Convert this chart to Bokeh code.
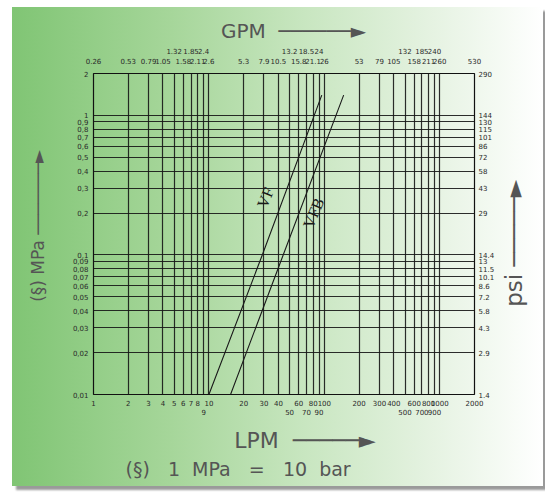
import math
from bokeh.plotting import figure
from bokeh.models import LogAxis, FixedTicker, Title
from bokeh.core.properties import value
from bokeh.embed import file_html
from bokeh.resources import INLINE

# ---- data ----
lpm_row1 = [1, 2, 3, 4, 5, 6, 7, 8, 10, 20, 30, 40, 60, 80, 100, 200, 300, 400, 600, 800, 1000, 2000]
lpm_row1_labels = [str(v) for v in lpm_row1]
lpm_row2 = [9, 50, 70, 90, 500, 700, 900]
lpm_row2_labels = [str(v) for v in lpm_row2]

gpm_row1_pos = [5, 7, 9, 50, 70, 90, 500, 700, 900]
gpm_row1_labels = ["1.32", "1.85", "2.4", "13.2", "18.5", "24", "132", "185", "240"]
gpm_row2_pos = [1, 2, 3, 4, 6, 8, 10, 20, 30, 40, 60, 80, 100, 200, 300, 400, 600, 800, 1000, 2000]
gpm_row2_labels = ["0.26", "0.53", "0.79", "1.05", "1.58", "2.11", "2.6", "5.3", "7.9", "10.5",
                   "15.8", "21.1", "26", "53", "79", "105", "158", "211", "260", "530"]

grid_lpm = [1, 2, 3, 4, 5, 6, 7, 8, 9, 10, 20, 30, 40, 50, 60, 70, 80, 90, 100,
            200, 300, 400, 500, 600, 700, 800, 900, 1000, 2000]

mpa_ticks = [2, 1, 0.9, 0.8, 0.7, 0.6, 0.5, 0.4, 0.3, 0.2,
             0.1, 0.09, 0.08, 0.07, 0.06, 0.05, 0.04, 0.03, 0.02, 0.01]
mpa_labels = ["2", "1", "0,9", "0,8", "0,7", "0,6", "0,5", "0,4", "0,3", "0,2",
              "0,1", "0,09", "0,08", "0,07", "0,06", "0,05", "0,04", "0,03", "0,02", "0,01"]
psi_labels = ["290", "144", "130", "115", "101", "86", "72", "58", "43", "29",
              "14.4", "13", "11.5", "10.1", "8.6", "7.2", "5.8", "4.3", "2.9", "1.4"]

vf_lpm = [10, 29, 95]
vf_mpa = [0.01, 0.1, 1.4]
vfb_lpm = [15.4, 44, 147]
vfb_mpa = [0.01, 0.1, 1.4]

NB = "\u00a0"

# ---- figure ----
W, H = 531, 479
p = figure(width=W, height=H, x_axis_type="log", y_axis_type="log",
           x_range=(1, 2000), y_range=(0.01, 2),
           output_backend="svg", toolbar_location=None,
           min_border_left=81, min_border_right=69, min_border_top=66, min_border_bottom=92)
p.border_fill_alpha = 0
p.background_fill_alpha = 0
p.outline_line_color = "#111111"
p.outline_line_width = 1.2
p.styles = {
    "margin-left": "4px",
    "transform": "translate(8px, 7px)",
    "background": "linear-gradient(to right, #80c574 0%, #a6d69a 30%, #c8e6c0 55%, #e4f2e0 78%, #ffffff 100%)",
    "box-shadow": "4px 4px 2px #9a9a9a",
}

TICK_FONT = "DejaVu Sans"
TITLE_FONT = "DejaVu Sans"
LABEL_COLOR = "#2a2a2a"
TITLE_COLOR = "#555555"


def style_axis(ax, ticks, labels, standoff, size="7px"):
    ax.ticker = FixedTicker(ticks=ticks)
    ax.major_label_overrides = {t: l for t, l in zip(ticks, labels)}
    ax.major_tick_in = 0
    ax.major_tick_out = 0
    ax.minor_tick_in = 0
    ax.minor_tick_out = 0
    ax.axis_line_color = None
    ax.major_label_standoff = standoff
    ax.major_label_text_font = TICK_FONT
    ax.major_label_text_font_size = size
    ax.major_label_text_color = LABEL_COLOR
    ax.axis_label_text_font = TITLE_FONT
    ax.axis_label_text_font_style = "normal"
    ax.axis_label_text_color = TITLE_COLOR


# grid
p.xgrid.ticker = FixedTicker(ticks=grid_lpm)
p.ygrid.ticker = FixedTicker(ticks=mpa_ticks)
for g in (p.xgrid, p.ygrid):
    g.grid_line_color = "#161616"
    g.grid_line_alpha = 0.9
    g.grid_line_width = 1.2
    g.minor_grid_line_color = None

# bottom axes
bx1 = p.xaxis[0]
style_axis(bx1, lpm_row1, lpm_row1_labels, 5)
bx2 = LogAxis()
style_axis(bx2, lpm_row2, lpm_row2_labels, 0)
bx2.axis_label = NB * 6 + "LPM" + NB * 2 + "─" * 5 + "►"
bx2.axis_label_text_font_size = "22px"
bx2.axis_label_standoff = 10
p.add_layout(bx2, "below")

# top axes
tx2 = LogAxis()
style_axis(tx2, gpm_row2_pos, gpm_row2_labels, 10)
p.add_layout(tx2, "above")
tx1 = LogAxis()
style_axis(tx1, gpm_row1_pos, gpm_row1_labels, 1)
tx1.axis_label = NB * 3 + "GPM" + NB * 2 + "─" * 6 + "►"
tx1.axis_label_text_font_size = "20px"
tx1.axis_label_standoff = 2
p.add_layout(tx1, "above")

# left axis
ly = p.yaxis[0]
style_axis(ly, mpa_ticks, mpa_labels, 5)
ly.axis_label = NB * 3 + "(§)" + NB + "MPa" + NB + "─" * 7 + "►"
ly.axis_label_text_font_size = "17px"
ly.axis_label_standoff = 22

# right axis (psi scale)
ry = LogAxis()
style_axis(ry, mpa_ticks, psi_labels, 4)
ry.axis_label = NB * 12 + "psi" + NB + "─" * 5 + "►"
ry.axis_label_text_font_size = "23px"
ry.axis_label_standoff = 17
ry.axis_label_orientation = math.pi / 2
ry.axis_label_align = "start"
p.add_layout(ry, "right")

# bottom note
note = Title(text="(§)" + NB * 3 + "1" + NB * 2 + "MPa" + NB * 3 + "=" + NB * 3 + "10" + NB * 2 + "bar",
             align="left", offset=32,
             text_font=TITLE_FONT, text_font_size="19px", text_font_style="normal",
             text_color=TITLE_COLOR, standoff=0)
p.add_layout(note, "below")

# curves
p.line(vf_lpm, vf_mpa, line_color="#1a1a1a", line_width=1.1)
p.line(vfb_lpm, vfb_mpa, line_color="#1a1a1a", line_width=1.1)
p.text(x=[30.9], y=[0.258], text=["VF"], angle=1.17,
       text_font=value("Liberation Serif"), text_font_size="16px",
       text_align="center", text_baseline="middle", text_color="#1a1a1a")
p.text(x=[80.6], y=[0.20], text=["VFB"], angle=1.17,
       text_font=value("Liberation Serif"), text_font_size="16px",
       text_align="center", text_baseline="middle", text_color="#1a1a1a")

open("out.html", "w").write(file_html(p, INLINE))
